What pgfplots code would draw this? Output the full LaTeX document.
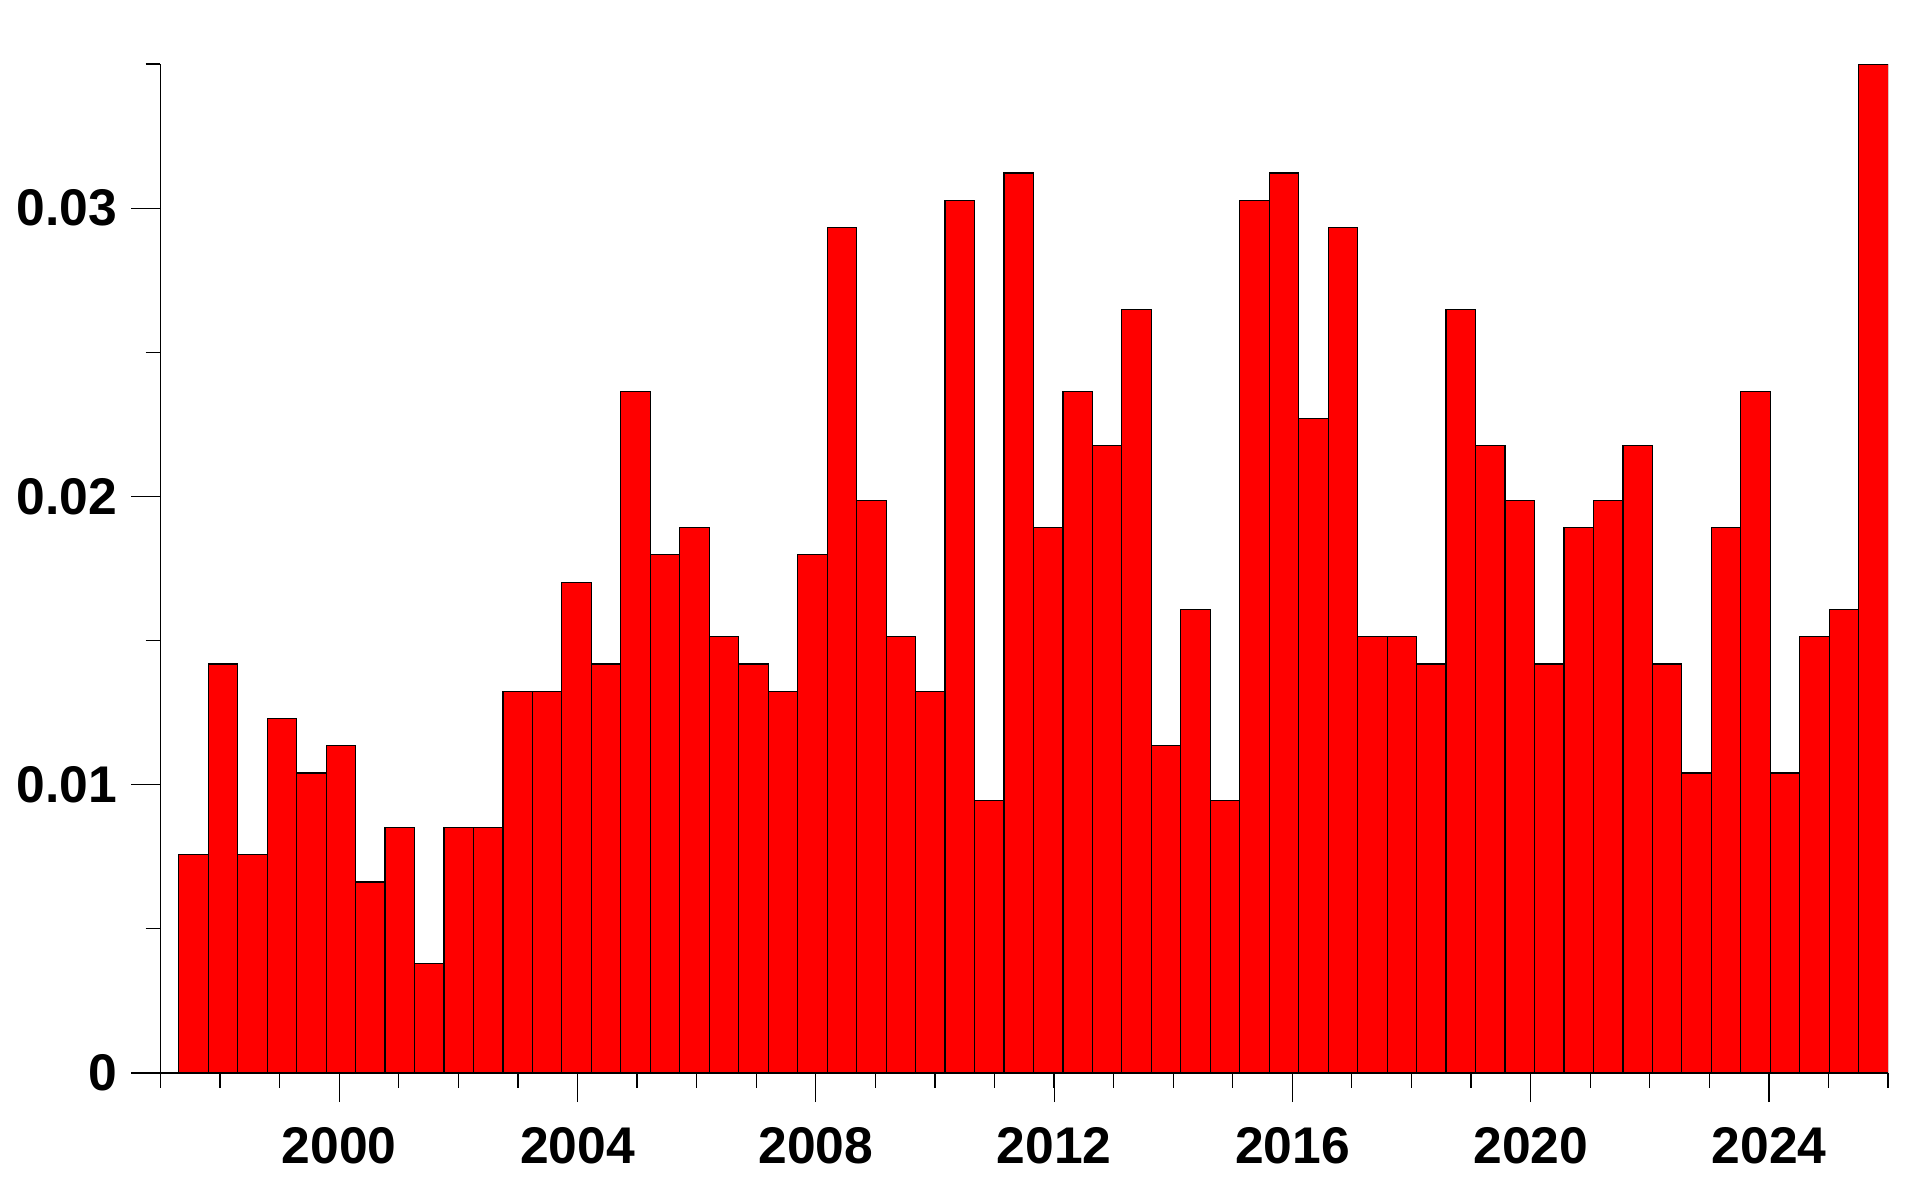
\documentclass[border=0pt]{standalone}
\usepackage{fontspec}
\setmainfont{Liberation Sans}
\usepackage{pgfplots}
\pgfplotsset{compat=1.18}
\begin{document}
\begin{tikzpicture}
\path[use as bounding box] (-40.125pt,-31.75pt) rectangle (439.9pt,268.25pt);
\begin{axis}[
  at={(0,0)}, anchor=south west,
  scale only axis, width=431.95pt, height=252.25pt,
  xmin=1997, xmax=2026, ymin=0, ymax=0.035,
  axis x line=bottom, axis y line=left,
  axis line style={-, line width=0.3pt, black},
  tick align=outside,
  major tick length=7.3pt, minor tick length=3.7pt,
  tick style={line width=0.3pt, black},
  xtick={2000,2004,...,2024},
  minor xtick={1997,...,2026},
  ytick={0,0.01,0.02,0.03},
  yticklabels={0,0.01,0.02,0.03},
  minor ytick={0.005,0.015,0.025,0.035},
  scaled y ticks=false,
  /pgf/number format/1000 sep={},
  /pgf/number format/assume math mode=true,
  ticklabel style={font=\fontsize{12.9}{15}\selectfont\bfseries},
  xticklabel style={yshift=-2.75pt},
]
\addplot[ybar interval, fill=red, draw=black, line width=0.3pt] coordinates {
(1997.306,0.007568) (1997.801,0.014189) (1998.295,0.007568) (1998.790,0.012297)
(1999.285,0.010405) (1999.780,0.011351) (2000.274,0.006622) (2000.769,0.008514)
(2001.264,0.003784) (2001.759,0.008514) (2002.253,0.008514) (2002.748,0.013243)
(2003.243,0.013243) (2003.737,0.017027) (2004.232,0.014189) (2004.727,0.023649)
(2005.222,0.017973) (2005.716,0.018919) (2006.211,0.015135) (2006.706,0.014189)
(2007.201,0.013243) (2007.695,0.017973) (2008.190,0.029324) (2008.685,0.019865)
(2009.180,0.015135) (2009.674,0.013243) (2010.169,0.030270) (2010.664,0.009459)
(2011.158,0.031216) (2011.653,0.018919) (2012.148,0.023649) (2012.643,0.021757)
(2013.137,0.026486) (2013.632,0.011351) (2014.127,0.016081) (2014.622,0.009459)
(2015.116,0.030270) (2015.611,0.031216) (2016.106,0.022703) (2016.600,0.029324)
(2017.095,0.015135) (2017.590,0.015135) (2018.085,0.014189) (2018.579,0.026486)
(2019.074,0.021757) (2019.569,0.019865) (2020.064,0.014189) (2020.558,0.018919)
(2021.053,0.019865) (2021.548,0.021757) (2022.043,0.014189) (2022.537,0.010405)
(2023.032,0.018919) (2023.527,0.023649) (2024.021,0.010405) (2024.516,0.015135)
(2025.011,0.016081) (2025.506,0.035000) (2026.000,0.035000)
};
\end{axis}
\end{tikzpicture}
\end{document}
